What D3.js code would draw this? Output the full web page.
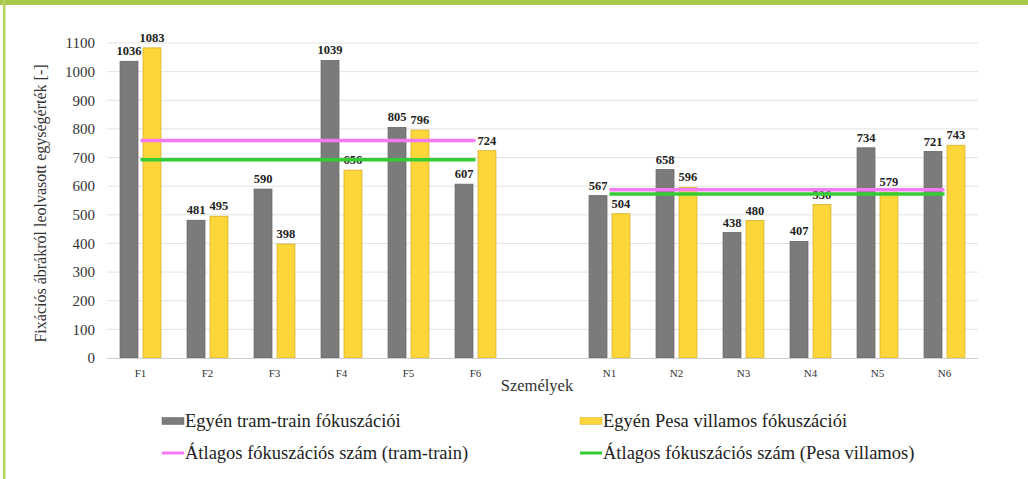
<!DOCTYPE html>
<html>
<head>
<meta charset="utf-8">
<script src="https://cdn.jsdelivr.net/npm/d3@7"></script>
<style>
  html, body { margin: 0; padding: 0; background: #fff; }
  svg { display: block; font-family: "Liberation Serif", "Times New Roman", serif; }
</style>
</head>
<body>
<svg id="chart" width="1028" height="479"></svg>
<script>
// ---- data ----
const categories = ["F1", "F2", "F3", "F4", "F5", "F6", "", "N1", "N2", "N3", "N4", "N5", "N6"];
const groupF = ["F1", "F2", "F3", "F4", "F5", "F6"];
const groupN = ["N1", "N2", "N3", "N4", "N5", "N6"];
const tramTrain = [1036, 481, 590, 1039, 805, 607, null, 567, 658, 438, 407, 734, 721];
const pesaVillamos = [1083, 495, 398, 656, 796, 724, null, 504, 596, 480, 536, 579, 743];
const yTicks = [0, 100, 200, 300, 400, 500, 600, 700, 800, 900, 1000, 1100];
const seriesNames = ["Egyén tram-train fókuszációi", "Egyén Pesa villamos fókuszációi"];
const lineNames = ["Átlagos fókuszációs szám (tram-train)", "Átlagos fókuszációs szám (Pesa villamos)"];
const yTitle = "Fixációs ábrákról leolvasott egységérték [-]";
const xTitle = "Személyek";

(function () {
const svg = d3.select("#chart");
const W = 1028, H = 479;
const pL = 107, pR = 978, pT = 43, pB = 358;

// frame decoration
svg.append("rect").attr("x", 0).attr("y", 0).attr("width", W).attr("height", 5).attr("fill", "#a6c84a");
svg.append("rect").attr("x", 3).attr("y", 0).attr("width", 2.5).attr("height", H).attr("fill", "#b3d35c");

const x = d3.scaleBand().domain(categories.map((c, i) => i)).range([pL, pR]).padding(0);
const bw = x.bandwidth();
const sub = d3.scaleBand().domain([0, 1]).range([bw * 0.195, bw * 0.805]).paddingInner(0.22);
const y = d3.scaleLinear().domain([0, 1100]).range([pB, pT]);

// gridlines
svg.append("g").selectAll("line").data(yTicks.filter(t => t > 0)).join("line")
  .attr("x1", pL).attr("x2", pR)
  .attr("y1", d => y(d)).attr("y2", d => y(d))
  .attr("stroke", "#e3e3e3").attr("stroke-width", 1);

// y tick labels
svg.append("g").selectAll("text").data(yTicks).join("text")
  .attr("x", 95).attr("y", d => y(d)).attr("dy", "0.35em")
  .attr("text-anchor", "end").attr("font-size", 15).attr("fill", "#333")
  .text(d => d);

// bars
const colors = ["#7b7b7b", "#fdd63a"];
const strokes = ["#666666", "#d6b02c"];
[tramTrain, pesaVillamos].forEach((vals, s) => {
  const g = svg.append("g");
  const data = vals.map((v, i) => ({ v, i })).filter(d => d.v != null);
  g.selectAll("rect").data(data).join("rect")
    .attr("x", d => x(d.i) + sub(s))
    .attr("y", d => y(d.v))
    .attr("width", sub.bandwidth())
    .attr("height", d => y(0) - y(d.v))
    .attr("fill", colors[s]).attr("stroke", strokes[s]).attr("stroke-width", 0.8);
  g.selectAll("text").data(data).join("text")
    .attr("x", d => x(d.i) + sub(s) + sub.bandwidth() / 2)
    .attr("y", d => y(d.v) - 6)
    .attr("text-anchor", "middle").attr("font-size", 12.5).attr("font-weight", "bold").attr("fill", "#222")
    .text(d => d.v);
});

// x axis baseline
svg.append("line").attr("x1", pL).attr("x2", pR).attr("y1", pB + 0.5).attr("y2", pB + 0.5)
  .attr("stroke", "#cfcfcf").attr("stroke-width", 1);

// x tick labels
svg.append("g").selectAll("text").data(categories.map((c, i) => ({ c, i })).filter(d => d.c)).join("text")
  .attr("x", d => x(d.i) + bw / 2).attr("y", 377)
  .attr("text-anchor", "middle").attr("font-size", 11).attr("fill", "#333")
  .text(d => d.c);

// average lines
const lineColors = ["#f47af4", "#33cc33"];
const line = d3.line().x(d => x(d.i) + bw / 2).y(d => y(d.v));
[tramTrain, pesaVillamos].forEach((vals, s) => {
  [groupF, groupN].forEach(grp => {
    const idx = grp.map(c => categories.indexOf(c));
    const avg = d3.mean(idx, i => vals[i]);
    const pts = idx.map(i => ({ i, v: avg }));
    svg.append("path").datum(pts).attr("d", line)
      .attr("fill", "none").attr("stroke", lineColors[s]).attr("stroke-width", 3.5);
  });
});

// axis titles
svg.append("text").attr("transform", `translate(46,${(pT + pB) / 2 + 3}) rotate(-90)`)
  .attr("text-anchor", "middle").attr("font-size", 16).attr("fill", "#333").text(yTitle);
svg.append("text").attr("x", 537).attr("y", 391).attr("text-anchor", "middle")
  .attr("font-size", 16.5).attr("fill", "#333").text(xTitle);

// legend
const leg = svg.append("g").attr("font-size", 18.5).attr("fill", "#222");
const legX = [162, 580];
const rowY = [421, 453];
seriesNames.forEach((n, s) => {
  leg.append("rect").attr("x", legX[s]).attr("y", rowY[0] - 3.5).attr("width", 22).attr("height", 7)
    .attr("fill", colors[s]).attr("stroke", strokes[s]).attr("stroke-width", 0.5);
  leg.append("text").attr("x", legX[s] + 23).attr("y", rowY[0]).attr("dy", "0.35em").text(n);
});
lineNames.forEach((n, s) => {
  leg.append("line").attr("x1", legX[s]).attr("x2", legX[s] + 22).attr("y1", rowY[1]).attr("y2", rowY[1])
    .attr("stroke", lineColors[s]).attr("stroke-width", 3);
  leg.append("text").attr("x", legX[s] + 23).attr("y", rowY[1]).attr("dy", "0.35em").text(n);
});
})();
</script>
</body>
</html>
